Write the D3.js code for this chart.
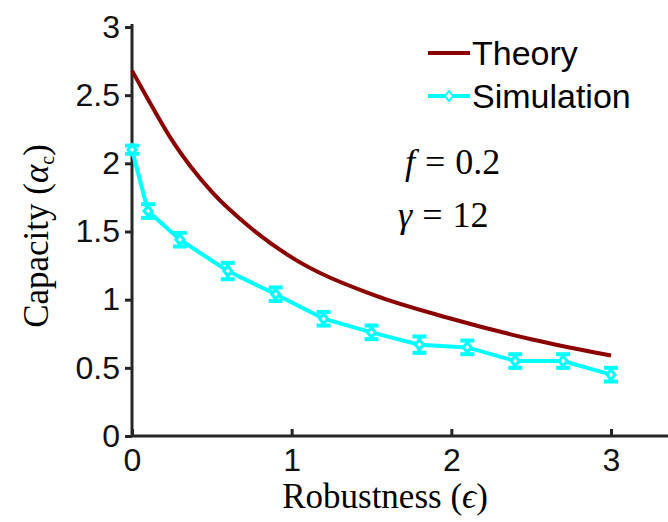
<!DOCTYPE html>
<html><head><meta charset="utf-8">
<script src="https://cdn.jsdelivr.net/npm/d3@7"></script>
<style>body{margin:0;background:#fff}</style>
</head><body><svg width="668" height="522"></svg>
<script>
const theoryX = [0, 0.1, 0.25, 0.5, 0.75, 1, 1.5, 2, 2.5, 3];
const theoryY = [2.68, 2.47, 2.17, 1.79, 1.52, 1.31, 1.04, 0.86, 0.71, 0.59];
const simX = [0, 0.1, 0.3, 0.6, 0.9, 1.2, 1.5, 1.8, 2.1, 2.4, 2.7, 3];
const simY = [2.1, 1.65, 1.44, 1.21, 1.04, 0.86, 0.76, 0.67, 0.65, 0.55, 0.55, 0.45];
const simErr = [0.03, 0.05, 0.05, 0.06, 0.05, 0.05, 0.05, 0.06, 0.05, 0.05, 0.05, 0.05];
const xTicks = [0, 1, 2, 3];
const yTicks = [0, 0.5, 1, 1.5, 2, 2.5, 3];

const svg = d3.select('svg');
const x = d3.scaleLinear().domain([0, 3]).range([132, 611]);
const y = d3.scaleLinear().domain([0, 3]).range([436, 27]);
const axisCol = '#262626';

// axes
svg.append('line').attr('x1', 132).attr('x2', 668).attr('y1', 436).attr('y2', 436)
  .attr('stroke', axisCol).attr('stroke-width', 3);
svg.append('line').attr('x1', 132).attr('x2', 132).attr('y1', 436).attr('y2', 24)
  .attr('stroke', axisCol).attr('stroke-width', 3);

const xa = svg.append('g').attr('transform', 'translate(0,436)')
  .call(d3.axisBottom(x).tickValues(xTicks).tickSize(-7).tickSizeOuter(0).tickPadding(12).tickFormat(d3.format('d')));
const ya = svg.append('g').attr('transform', 'translate(132,0)')
  .call(d3.axisLeft(y).tickValues(yTicks).tickSize(7).tickSizeOuter(0).tickPadding(5).tickFormat(d => d));
[xa, ya].forEach(a => {
  a.select('.domain').remove();
  a.selectAll('line').attr('stroke', axisCol).attr('stroke-width', 3);
  a.selectAll('text').attr('font-family', 'Liberation Sans, Arial').attr('font-size', 32).attr('fill', '#111');
});
xa.selectAll('.tick line').attr('y2', -7);

// theory
svg.append('path').datum(theoryX.map((d, i) => [d, theoryY[i]]))
  .attr('d', d3.line().x(d => x(d[0])).y(d => y(d[1])).curve(d3.curveMonotoneX))
  .attr('fill', 'none').attr('stroke', '#8b0000').attr('stroke-width', 4);

// simulation
const cyan = '#00ffff';
svg.append('path').datum(simX.map((d, i) => [d, simY[i]]))
  .attr('d', d3.line().x(d => x(d[0])).y(d => y(d[1])))
  .attr('fill', 'none').attr('stroke', cyan).attr('stroke-width', 4);
const eb = svg.append('g').selectAll('g').data(simX).join('g');
eb.append('line').attr('x1', d => x(d)).attr('x2', d => x(d))
  .attr('y1', (d, i) => y(simY[i] - simErr[i])).attr('y2', (d, i) => y(simY[i] + simErr[i]))
  .attr('stroke', cyan).attr('stroke-width', 4);
[-1, 1].forEach(s => eb.append('line').attr('x1', d => x(d) - 7).attr('x2', d => x(d) + 7)
  .attr('y1', (d, i) => y(simY[i] + s * simErr[i])).attr('y2', (d, i) => y(simY[i] + s * simErr[i]))
  .attr('stroke', cyan).attr('stroke-width', 4));
eb.append('path').attr('transform', (d, i) => `translate(${x(d)},${y(simY[i])})`)
  .attr('d', 'M0,-5L4,0L0,5L-4,0Z').attr('fill', 'white').attr('stroke', cyan).attr('stroke-width', 3);

// legend
const lg = svg.append('g').attr('font-family', 'Liberation Sans, Arial').attr('font-size', 34);
lg.append('line').attr('x1', 428).attr('x2', 470).attr('y1', 53).attr('y2', 53).attr('stroke', '#8b0000').attr('stroke-width', 4);
lg.append('text').attr('x', 472).attr('y', 65).text('Theory');
lg.append('line').attr('x1', 428).attr('x2', 470).attr('y1', 96).attr('y2', 96).attr('stroke', cyan).attr('stroke-width', 4);
lg.append('path').attr('transform', 'translate(449,96)').attr('d', 'M0,-5L4,0L0,5L-4,0Z').attr('fill', 'white').attr('stroke', cyan).attr('stroke-width', 2);
lg.append('text').attr('x', 472).attr('y', 108).text('Simulation');

// annotations
const ann = svg.append('g').attr('font-family', 'Liberation Serif, DejaVu Serif').attr('font-size', 36);
ann.append('text').attr('x', 405).attr('y', 174).html('<tspan font-style="italic">f</tspan><tspan dx="10">=</tspan><tspan dx="10">0.2</tspan>');
ann.append('text').attr('x', 398).attr('y', 227).html('<tspan font-style="italic">γ</tspan><tspan dx="10">=</tspan><tspan dx="10">12</tspan>');

// axis titles
svg.append('text').attr('x', 385).attr('y', 508).attr('text-anchor', 'middle')
  .attr('font-family', 'Liberation Serif, DejaVu Serif').attr('font-size', 35)
  .html('Robustness (<tspan font-style="italic">ϵ</tspan>)');
svg.append('text').attr('transform', 'translate(48,236) rotate(-90)').attr('text-anchor', 'middle')
  .attr('font-family', 'Liberation Serif, DejaVu Serif').attr('font-size', 35)
  .html('Capacity (<tspan font-style="italic">α</tspan><tspan font-size="20" dy="6">c</tspan><tspan dy="-6">)</tspan>');
</script></body></html>
